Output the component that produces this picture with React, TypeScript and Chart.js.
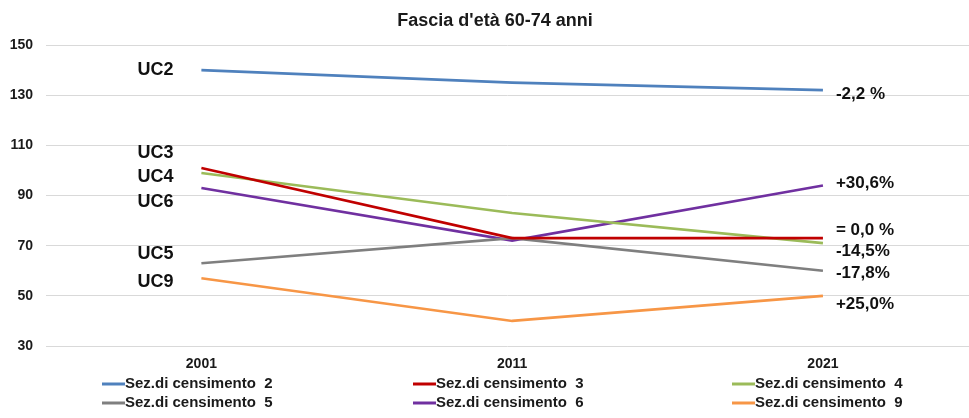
import React, { useEffect, useRef } from "react";
import { Chart, registerables } from "chart.js";

Chart.register(...registerables);

// ---- data ----
const chartTitle = "Fascia d'età 60-74 anni";
const years = [2001, 2011, 2021];
const yTicks = [30, 50, 70, 90, 110, 130, 150];
const seriesNames = [
  "Sez.di censimento  2",
  "Sez.di censimento  3",
  "Sez.di censimento  4",
  "Sez.di censimento  5",
  "Sez.di censimento  6",
  "Sez.di censimento  9",
];
const sez2 = [140, 135, 132];
const sez3 = [101, 73, 73];
const sez4 = [99, 83, 71];
const sez5 = [63, 73, 60];
const sez6 = [93, 72, 94];
const sez9 = [57, 40, 50];
const startLabels = ["UC2", "UC3", "UC4", "UC5", "UC6", "UC9"];
const endLabels = ["-2,2 %", "= 0,0 %", "-14,5%", "-17,8%", "+30,6%", "+25,0%"];

// ---- styles ----
const colors = ["#4F81BD", "#C00000", "#9BBB59", "#7F7F7F", "#7030A0", "#F79646"];
const startOffsets = [0, -15, 4, -9, 14, 3.5];
const endOffsets = [4, -8, 8, 3, -2, 8];
const legendCols = [102, 413, 732];
const legendRows = [384, 403];
const FONT = "'Liberation Sans', Arial, sans-serif";

const annotationPlugin = {
  id: "annotations",
  afterDraw(chart: any) {
    const ctx = chart.ctx;
    ctx.save();
    // title
    ctx.fillStyle = "#1a1a1a";
    ctx.font = `bold 18px ${FONT}`;
    ctx.textAlign = "center";
    ctx.textBaseline = "middle";
    ctx.fillText(chartTitle, 495, 21);

    chart.data.datasets.forEach((ds: any, i: number) => {
      const meta = chart.getDatasetMeta(i);
      const first = meta.data[0];
      const last = meta.data[meta.data.length - 1];
      ctx.fillStyle = "#111";
      ctx.font = `bold 18px ${FONT}`;
      ctx.textAlign = "right";
      ctx.textBaseline = "middle";
      ctx.fillText(startLabels[i], first.x - 28, first.y + startOffsets[i]);
      ctx.font = `bold 17px ${FONT}`;
      ctx.textAlign = "left";
      ctx.fillText(endLabels[i], last.x + 13, last.y + endOffsets[i]);

      // legend
      const lx = legendCols[i % 3];
      const ly = legendRows[Math.floor(i / 3)];
      ctx.strokeStyle = ds.borderColor;
      ctx.lineWidth = 3;
      ctx.beginPath();
      ctx.moveTo(lx, ly);
      ctx.lineTo(lx + 23, ly);
      ctx.stroke();
      ctx.fillStyle = "#1a1a1a";
      ctx.font = `bold 15px ${FONT}`;
      ctx.textAlign = "left";
      ctx.fillText(ds.label, lx + 23, ly);
    });
    ctx.restore();
  },
};

export default function App() {
  const ref = useRef<HTMLCanvasElement | null>(null);
  useEffect(() => {
    if (!ref.current) return;
    const series = [sez2, sez3, sez4, sez5, sez6, sez9];
    const chart = new Chart(ref.current, {
      type: "line",
      data: {
        datasets: series.map((vals, i) => ({
          label: seriesNames[i],
          data: vals.map((v, j) => ({ x: years[j], y: v })),
          borderColor: colors[i],
          backgroundColor: colors[i],
          borderWidth: 2.6,
          pointRadius: 0,
          tension: 0,
          fill: false,
        })),
      },
      options: {
        animation: false,
        responsive: false,
        maintainAspectRatio: false,
        layout: { padding: { top: 45, left: 10, right: 0, bottom: 0 } },
        plugins: {
          legend: { display: false },
          title: { display: false },
          tooltip: { enabled: false },
        },
        scales: {
          x: {
            type: "linear",
            min: 1996,
            max: 2025.7,
            grid: { display: false },
            border: { display: false },
            afterBuildTicks: (scale: any) => {
              scale.ticks = years.map((v) => ({ value: v }));
            },
            afterFit: (scale: any) => {
              scale.height = 72;
            },
            ticks: {
              autoSkip: false,
              maxRotation: 0,
              padding: 2,
              color: "#1a1a1a",
              font: { family: FONT, size: 14, weight: "bold" },
              callback: (v: any) => String(v),
            },
          },
          y: {
            min: 30,
            max: 150,
            afterBuildTicks: (scale: any) => {
              scale.ticks = yTicks.map((v) => ({ value: v }));
            },
            afterFit: (scale: any) => {
              scale.width = 36;
            },
            grid: { color: "#D9D9D9", lineWidth: 1, drawTicks: false },
            border: { display: false },
            ticks: {
              padding: 13,
              color: "#1a1a1a",
              font: { family: FONT, size: 14, weight: "bold" },
              callback: (v: any) => String(v),
            },
          },
        },
      },
      plugins: [annotationPlugin],
    } as any);
    return () => chart.destroy();
  }, []);
  return (
    <div style={{ position: "absolute", left: 0, top: 0, width: 969, height: 418, background: "#fff" }}>
      <canvas ref={ref} width={969} height={418} style={{ width: 969, height: 418 }} />
    </div>
  );
}
